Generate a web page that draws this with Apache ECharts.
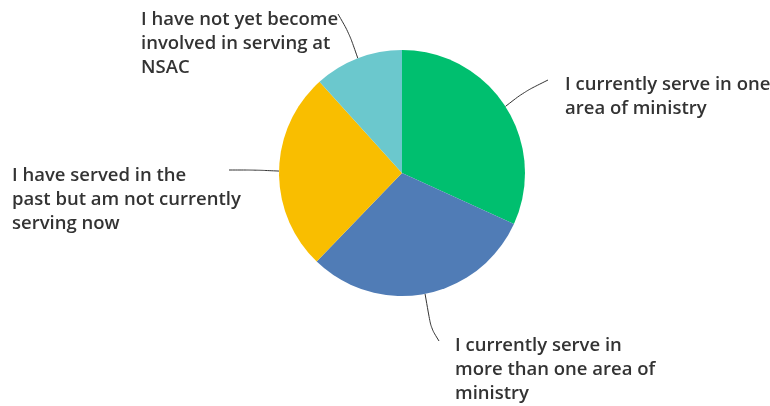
<!DOCTYPE html>
<html>
<head>
<meta charset="utf-8">
<script src="https://cdn.jsdelivr.net/npm/echarts@6/dist/echarts.min.js"></script>
<style>html,body{margin:0;padding:0;background:#fff;}#main{width:770px;height:406px;}</style>
</head>
<body>
<div id="main"></div>
<script>
var categories = [
  "I currently serve in one\narea of ministry",
  "I currently serve in\nmore than one area of\nministry",
  "I have served in the\npast but am not currently\nserving now",
  "I have not yet become\ninvolved in serving at\nNSAC"
];
var values = [31.8, 30.4, 26.1, 11.7];
var colors = ["#00BF6F", "#507CB6", "#F9BE00", "#6BC8CD"];

// label layout (text top-left and label-line bend/end points), by slice
var labelPos = [
  {x: 565, y: 73, mid: [524, 92], end: [548, 80]},
  {x: 455, y: 334, mid: [431, 328], end: [439, 341]},
  {x: 12, y: 164, mid: [255, 170], end: [229, 170]},
  {x: 141, y: 8, mid: [349, 33], end: [338, 14]}
];

var chart = echarts.init(document.getElementById('main'));
chart.setOption({
  animation: false,
  backgroundColor: '#fff',
  series: [{
    type: 'pie',
    center: [402, 173],
    radius: 123,
    startAngle: 90,
    clockwise: true,
    data: categories.map(function (c, i) {
      return {name: c, value: values[i], itemStyle: {color: colors[i]}};
    }),
    label: {
      show: true,
      position: 'outside',
      alignTo: 'none',
      overflow: 'none',
      formatter: '{b}',
      color: '#333',
      fontFamily: 'Open Sans',
      fontWeight: 600,
      fontSize: 18.5,
      lineHeight: 24
    },
    labelLine: {show: true, smooth: 0.3, lineStyle: {color: '#333', width: 1}},
    labelLayout: function (params) {
      var p = labelPos[params.dataIndex];
      var p0 = params.labelLinePoints ? params.labelLinePoints[0] : p.mid;
      return {
        x: p.x, y: p.y, align: 'left', verticalAlign: 'top',
        labelLinePoints: [p0, p.mid, p.end]
      };
    },
    emphasis: {disabled: true}
  }]
});
</script>
</body>
</html>
